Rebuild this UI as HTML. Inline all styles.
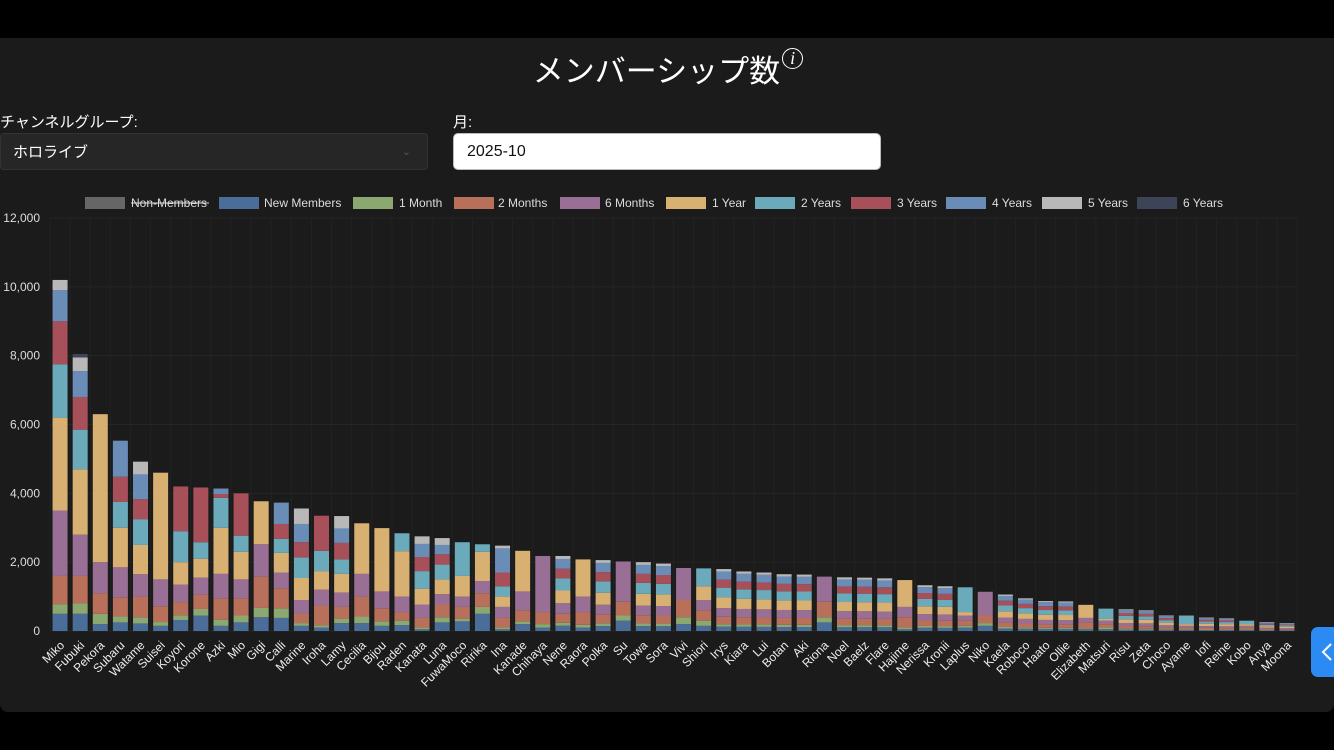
<!DOCTYPE html>
<html><head><meta charset="utf-8">
<style>
html,body{margin:0;padding:0;background:#000;width:1334px;height:750px;overflow:hidden;font-family:"Liberation Sans","Noto Sans CJK JP",sans-serif;color:#fff}
#panel{position:absolute;left:0;top:38px;width:1334px;height:674px;background:#1b1b1b;border-radius:0 0 8px 8px}
.title{position:absolute;top:8px;left:0;width:1336px;text-align:center;font-size:31px;font-family:"Noto Sans CJK JP",sans-serif;font-weight:400}
.lbl{position:absolute;top:73px;font-size:15px;font-family:"Liberation Sans","Noto Sans CJK JP",sans-serif}
.sel{position:absolute;left:0;top:95px;width:428px;height:37px;background:#262626;border:1px solid #333;border-radius:4px;font-size:15px;line-height:37px;box-sizing:border-box;padding-left:12px;font-family:"Liberation Sans","Noto Sans CJK JP",sans-serif}
.inp{position:absolute;left:453px;top:95px;width:428px;height:37px;background:#fff;border:1px solid #bbb;border-radius:5px;box-sizing:border-box;padding-left:13px;color:#111;font-size:16px;line-height:35px}
.btn{position:absolute;left:1311px;top:589px;width:40px;height:50px;background:#2b8bf2;border-radius:7px}
svg{position:absolute;left:0;top:0}
</style></head><body>
<div id="panel">
<div class="title">メンバーシップ数<sup style="font-size:18px;font-family:'Liberation Serif',serif;font-style:italic;border:1.5px solid #fff;border-radius:50%;display:inline-block;width:19px;height:19px;line-height:19px;text-align:center;vertical-align:18px;margin-left:2px">i</sup></div>
<div class="lbl" style="left:0">チャンネルグループ:</div>
<div class="sel">ホロライブ<span style="position:absolute;right:16px;color:#555;font-size:11px">&#8964;</span></div>
<div class="lbl" style="left:453px">月:</div>
<div class="inp">2025-10</div>
<div class="btn"><svg width="40" height="50"><path d="M20 17 L12 25 L20 33" stroke="#fff" stroke-width="2" fill="none"/></svg></div>
</div>
<svg id="c" width="1334" height="750" xmlns="http://www.w3.org/2000/svg"></svg>
<script>
const C=["#4a6d99","#8ba870","#b9705a","#9a6f96","#d8b072","#6aaabb","#a8505a","#6a8db8","#b8b8b8","#3d4458"];
const names=["Miko","Fubuki","Pekora","Subaru","Watame","Suisei","Koyori","Korone","Azki","Mio","Gigi","Calli","Marine","Iroha","Lamy","Cecilia","Bijou","Raden","Kanata","Luna","FuwaMoco","Ririka","Ina","Kanade","Chihaya","Nene","Raora","Polka","Su","Towa","Sora","Vivi","Shiori","Irys","Kiara","Lui","Botan","Aki","Riona","Noel","Baelz","Flare","Hajime","Nerissa","Kronii","Laplus","Niko","Kaela","Roboco","Haato","Ollie","Elizabeth","Matsuri","Risu","Zeta","Choco","Ayame","Iofi","Reine","Kobo","Anya","Moona"];
const D={
Miko:[500,780,1600,3500,6200,7750,9000,9900,10200],
Fubuki:[500,800,1600,2800,4700,5850,6800,7550,7950,8050],
Pekora:[200,500,1100,2000,6300],
Subaru:[250,420,980,1850,3000,3750,4480,5530],
Watame:[220,400,1000,1650,2500,3250,3830,4550,4920],
Suisei:[150,260,720,1500,4600],
Koyori:[320,460,840,1350,2000,2900,4200],
Korone:[450,640,1050,1550,2100,2580,4170],
Azki:[150,330,950,1660,3000,3870,3980,4140],
Mio:[250,450,950,1500,2300,2770,4000],
Gigi:[400,670,1580,2520,3770],
Calli:[380,660,1240,1700,2270,2680,3110,3730],
Marine:[150,230,510,900,1540,2140,2580,3110,3560],
Iroha:[100,170,740,1200,1740,2330,3350],
Lamy:[230,360,700,1120,1660,2080,2560,2980,3340],
Cecilia:[230,420,1000,1660,3130],
Bijou:[150,280,660,1150,2990],
Raden:[170,300,550,1000,2320,2840],
Kanata:[50,100,380,770,1230,1740,2150,2530,2750],
Luna:[250,400,770,1070,1500,1930,2230,2500,2700],
FuwaMoco:[280,350,700,1000,1600,2580],
Ririka:[500,700,1100,1450,2300,2520],
Ina:[50,100,380,700,1000,1300,1700,2400,2480],
Kanade:[200,280,600,1150,2330],
Chihaya:[100,200,550,2180],
Raora:[100,180,550,1000,2080],
Su:[300,450,850,2020],
Vivi:[200,400,900,1830],
Shiori:[150,300,600,900,1300,1820],
Riona:[250,400,850,1580],
Hajime:[50,100,400,700,1480],
Laplus:[100,150,300,450,550,1270],
Niko:[150,230,450,1140],
Elizabeth:[50,80,250,380,760],
Matsuri:[50,100,200,300,350,650],
Ayame:[30,50,100,150,200,450],
Kobo:[30,50,100,150,200,300]
};
const tot={Nene:2180,Polka:2060,Towa:2000,Sora:1960,Irys:1800,Kiara:1730,Lui:1700,Botan:1650,Aki:1640,Noel:1560,Baelz:1550,Flare:1530,Nerissa:1330,Kronii:1300,Kaela:1060,Roboco:950,Haato:870,Ollie:860,Risu:630,Zeta:600,Choco:450,Iofi:390,Reine:370,Anya:260,Moona:230};
const fr=[.07,.04,.12,.14,.17,.16,.13,.13,.04];
const y0=631,k=413/12000,x0=50,w=(1297-50)/62;
let s='';
for(let i=0;i<=62;i++){const x=x0+i*w;s+=`<line x1="${x}" y1="218" x2="${x}" y2="${y0}" stroke="#222" stroke-width="1"/>`;}
for(let v=0;v<=12000;v+=2000){const y=y0-v*k;s+=`<line x1="${x0}" y1="${y}" x2="1297" y2="${y}" stroke="#252525"/><text x="40" y="${y+4}" text-anchor="end" font-size="12" fill="#ddd">${v.toLocaleString('en-US')}</text>`;}
names.forEach((n,i)=>{
 let cum=D[n];
 if(!cum){const t=tot[n];cum=[];let a=0;fr.forEach((f,j)=>{a+=f*t;cum.push(a);});}
 const cx=x0+(i+.5)*w,bw=15;let prev=0;
 cum.forEach((v,j)=>{const yt=y0-v*k,yb=y0-prev*k;s+=`<rect x="${cx-bw/2}" y="${yt}" width="${bw}" height="${Math.max(0,yb-yt)}" fill="${C[j]}"/>`;prev=v;});
 s+=`<text transform="translate(${cx+5},646) rotate(-45)" text-anchor="end" font-size="12" fill="#eee">${n}</text>`;
});
const L=[["Non-Members",85,131,"#666"],["New Members",219,264,C[0]],["1 Month",353,399,C[1]],["2 Months",454,498,C[2]],["6 Months",560,605,C[3]],["1 Year",666,712,C[4]],["2 Years",755,801,C[5]],["3 Years",851,897,C[6]],["4 Years",946,992,C[7]],["5 Years",1042,1088,C[8]],["6 Years",1137,1183,C[9]]];
L.forEach(([t,bx,tx,c],i)=>{s+=`<rect x="${bx}" y="197" width="40" height="12" fill="${c}"/><text x="${tx}" y="207" font-size="12" fill="#ddd">${t}</text>`;if(i==0)s+=`<line x1="${tx}" y1="203" x2="209" y2="203" stroke="#ddd"/>`;});
document.getElementById('c').innerHTML=s;
</script>
</body></html>
